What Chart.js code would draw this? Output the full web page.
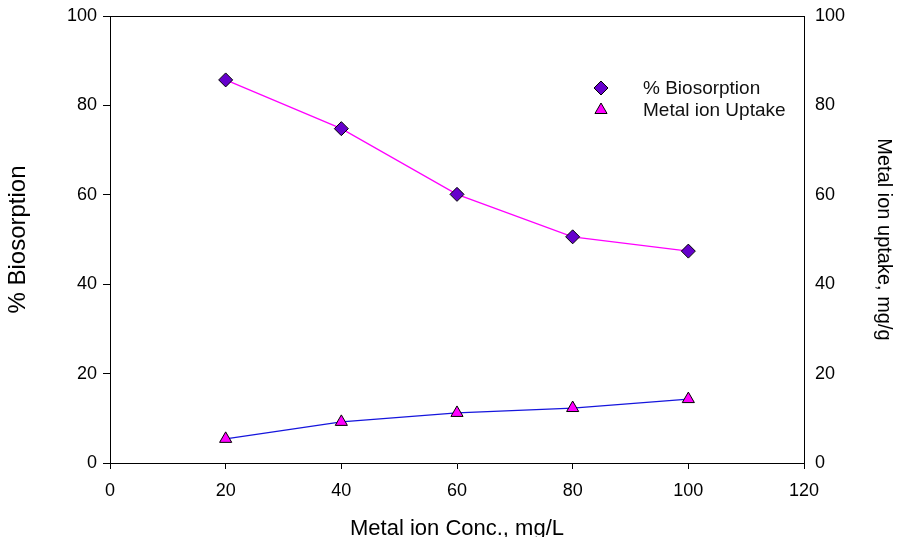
<!DOCTYPE html>
<html>
<head>
<meta charset="utf-8">
<script src="https://cdn.jsdelivr.net/npm/chart.js@4/dist/chart.umd.min.js"></script>
<style>
  html, body { margin: 0; padding: 0; background: #fff; }
  #wrap { width: 900px; height: 537px; }
</style>
</head>
<body>
<div id="wrap"><canvas id="c"></canvas></div>
<script>
// Metal ion concentration (mg/L)
const concentrations = [20, 40, 60, 80, 100];
// % Biosorption at each concentration
const biosorption = [85.7, 74.8, 60.1, 50.6, 47.4];
// Metal ion uptake (mg/g) at each concentration
const uptake = [5.4, 9.2, 11.2, 12.3, 14.3];
// Axis tick values
const xTicks = [0, 20, 40, 60, 80, 100, 120];
const yTicks = [0, 20, 40, 60, 80, 100];

const seriesNames = ['% Biosorption', 'Metal ion Uptake'];

const FONT = "'Liberation Sans', Arial, sans-serif";
const INK = '#000';

const toPoints = (xs, ys) => xs.map((x, i) => ({ x, y: ys[i] }));

// Frame line along the top of the plot area
const framePlugin = {
  id: 'frame',
  beforeDatasetsDraw(chart) {
    const { ctx, chartArea: a } = chart;
    ctx.save();
    ctx.strokeStyle = INK;
    ctx.lineWidth = 1;
    ctx.beginPath();
    ctx.moveTo(a.left, a.top + 0.5);
    ctx.lineTo(a.right, a.top + 0.5);
    ctx.stroke();
    ctx.restore();
  }
};

// Marker-only legend inside the plot area
const markerLegend = {
  id: 'markerLegend',
  afterDraw(chart) {
    const { ctx } = chart;
    const rows = [
      { ds: chart.data.datasets[0], y: 88 },
      { ds: chart.data.datasets[1], y: 110 }
    ];
    ctx.save();
    rows.forEach(r => {
      ctx.fillStyle = r.ds.pointBackgroundColor;
      ctx.strokeStyle = r.ds.pointBorderColor;
      ctx.lineWidth = 1;
      Chart.helpers.drawPoint(ctx, {
        pointStyle: r.ds.pointStyle,
        radius: r.ds.pointRadius,
        borderWidth: 1,
        rotation: 0
      }, 601, r.y);
      ctx.fillStyle = '#111';
      ctx.font = '19px ' + FONT;
      ctx.textBaseline = 'middle';
      ctx.textAlign = 'left';
      ctx.fillText(r.ds.label, 643, r.y + 1);
    });
    ctx.restore();
  }
};

const tickFont = { family: FONT, size: 18 };
const zeroPad = s => { s.paddingTop = 0; s.paddingBottom = 0; s.paddingLeft = 0; s.paddingRight = 0; };

new Chart(document.getElementById('c'), {
  type: 'scatter',
  data: {
    datasets: [
      {
        label: seriesNames[0],
        data: toPoints(concentrations, biosorption),
        showLine: true,
        borderColor: '#FF00FF',
        borderWidth: 1.25,
        pointStyle: 'rectRot',
        pointRadius: 7,
        pointHoverRadius: 7,
        pointBackgroundColor: '#6600CC',
        pointBorderColor: '#000',
        pointBorderWidth: 1,
        yAxisID: 'y'
      },
      {
        label: seriesNames[1],
        data: toPoints(concentrations, uptake),
        showLine: true,
        borderColor: '#1515DD',
        borderWidth: 1.25,
        pointStyle: 'triangle',
        pointRadius: 7,
        pointHoverRadius: 7,
        pointBackgroundColor: '#FF00FF',
        pointBorderColor: '#000',
        pointBorderWidth: 1,
        yAxisID: 'y2'
      }
    ]
  },
  options: {
    responsive: true,
    maintainAspectRatio: false,
    animation: false,
    layout: { padding: { top: 16, left: 0, right: 0, bottom: 0 } },
    plugins: {
      legend: { display: false },
      tooltip: { enabled: false }
    },
    scales: {
      x: {
        type: 'linear',
        min: 0,
        max: 120,
        afterBuildTicks: s => { s.ticks = xTicks.map(v => ({ value: v })); },
        afterFit: s => { s.height = 74; zeroPad(s); },
        grid: { drawOnChartArea: false, drawTicks: true, tickLength: 6, color: INK },
        border: { display: true, color: INK, width: 1 },
        ticks: { color: INK, font: tickFont, padding: 11, maxRotation: 0 },
        title: {
          display: true,
          text: 'Metal ion Conc., mg/L',
          color: INK,
          font: { family: FONT, size: 22, lineHeight: 1 },
          padding: { top: 0, bottom: -3 }
        }
      },
      y: {
        position: 'left',
        min: 0,
        max: 100,
        afterBuildTicks: s => { s.ticks = yTicks.map(v => ({ value: v })); },
        afterFit: s => { s.width = 110; zeroPad(s); },
        grid: { drawOnChartArea: false, drawTicks: true, tickLength: 7, color: INK },
        border: { display: true, color: INK, width: 1 },
        ticks: { color: INK, font: tickFont, padding: 6 },
        title: {
          display: true,
          text: '% Biosorption',
          color: INK,
          font: { family: FONT, size: 24, lineHeight: 1 },
          padding: { top: 6, bottom: 0 }
        }
      },
      y2: {
        position: 'right',
        min: 0,
        max: 100,
        afterBuildTicks: s => { s.ticks = yTicks.map(v => ({ value: v })); },
        afterFit: s => { s.width = 96; zeroPad(s); },
        grid: { drawOnChartArea: false, drawTicks: false, tickLength: 0 },
        border: { display: true, color: INK, width: 1 },
        ticks: { color: INK, font: tickFont, padding: 11 },
        title: {
          display: true,
          text: 'Metal ion uptake, mg/g',
          color: INK,
          font: { family: FONT, size: 20, lineHeight: 1 },
          padding: { top: 6, bottom: 0 }
        }
      }
    }
  },
  plugins: [framePlugin, markerLegend]
});
</script>
</body>
</html>
